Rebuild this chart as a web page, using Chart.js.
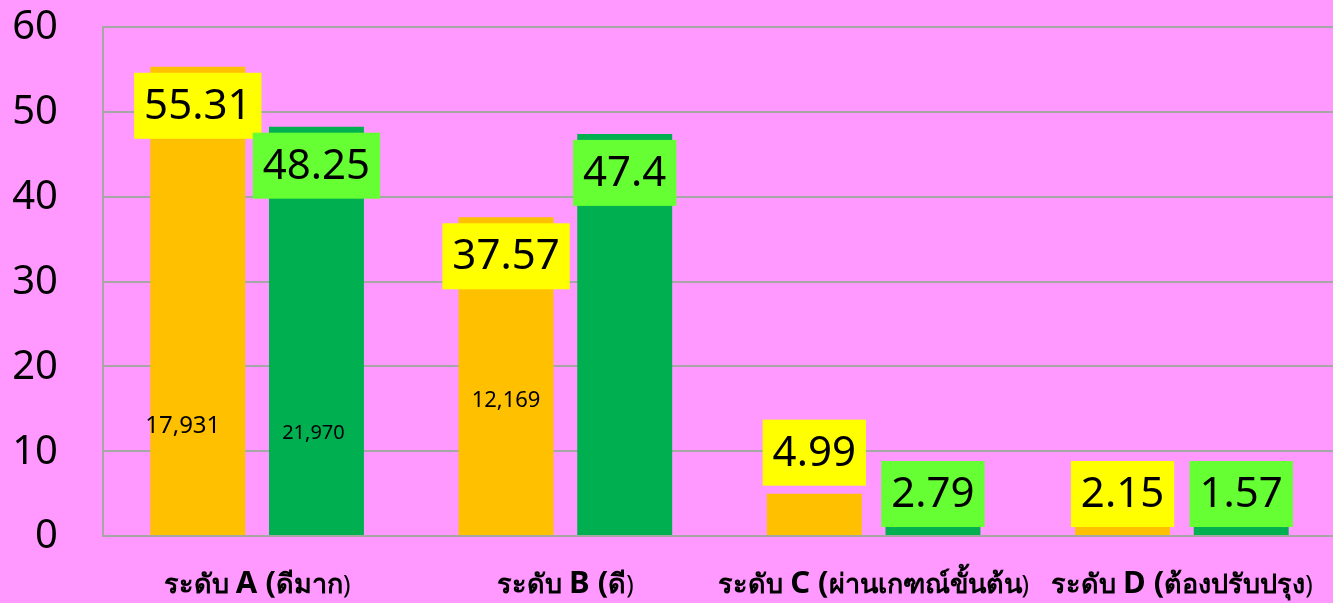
<!DOCTYPE html>
<html>
<head>
<meta charset="utf-8">
<script src="https://cdn.jsdelivr.net/npm/chart.js@4/dist/chart.umd.min.js"></script>
<style>
  html, body { margin: 0; padding: 0; background: #FF99FF; }
  #wrap { width: 1336px; height: 603px; }
</style>
</head>
<body>
<div id="wrap"><canvas id="chart"></canvas></div>
<script>
// data
const levelCodes = ["A", "B", "C", "D"];
const levelNames = ["ดีมาก", "ดี", "ผ่านเกฑณ์ขั้นต้น", "ต้องปรับปรุง"];
const percentOrange = [55.31, 37.57, 4.99, 2.15];
const percentGreen = [48.25, 47.4, 2.79, 1.57];
const countsOrange = ["17,931", "12,169", null, null];
const countsGreen = ["21,970", null, null, null];
const yTicks = [0, 10, 20, 30, 40, 50, 60];

const BG = "#FF99FF";
const FONT = "'Noto Sans', 'Open Sans', sans-serif";

// big value boxes (yellow / bright green) near the bar tops
const valueBoxes = {
  id: "valueBoxes",
  afterDatasetsDraw(chart) {
    const ctx = chart.ctx;
    const bottom = chart.chartArea.bottom;
    chart.data.datasets.forEach((ds, di) => {
      const meta = chart.getDatasetMeta(di);
      meta.data.forEach((bar, i) => {
        const txt = String(ds.data[i]);
        ctx.save();
        ctx.font = "42px " + FONT;
        const w = ctx.measureText(txt).width + 20;
        const h = 66;
        let cy;
        if (ds.labelAbove && ds.labelAbove[i]) cy = bar.y - 41;
        else cy = Math.min(bar.y + 39, bottom - 9 - h / 2);
        ctx.fillStyle = ds.boxColor;
        ctx.fillRect(bar.x - w / 2, cy - h / 2, w, h);
        ctx.fillStyle = "#000";
        ctx.textAlign = "center";
        ctx.textBaseline = "middle";
        ctx.fillText(txt, bar.x, cy + 1);
        ctx.restore();
      });
    });
  }
};

// small head-count text boxes inside the bars
const countLabels = {
  id: "countLabels",
  afterDatasetsDraw(chart, args, opts) {
    const ctx = chart.ctx;
    const y = chart.scales.y;
    chart.data.datasets.forEach((ds, di) => {
      const meta = chart.getDatasetMeta(di);
      ds.counts.forEach((c, i) => {
        if (!c) return;
        const st = opts.style[di][i];
        ctx.save();
        ctx.font = st.size + "px " + FONT;
        ctx.fillStyle = "#000";
        ctx.textAlign = "center";
        ctx.textBaseline = "middle";
        ctx.fillText(c, meta.data[i].x + st.dx, y.getPixelForValue(st.at));
        ctx.restore();
      });
    });
  }
};

// y tick labels, right-aligned well left of the axis
const yLabels = {
  id: "yLabels",
  afterDraw(chart) {
    const ctx = chart.ctx;
    const y = chart.scales.y;
    ctx.save();
    ctx.font = "40px " + FONT;
    ctx.fillStyle = "#000";
    ctx.textAlign = "right";
    ctx.textBaseline = "middle";
    yTicks.forEach(v => ctx.fillText(String(v), 58, y.getPixelForValue(v) + 1));
    ctx.restore();
  }
};

// category labels: "ระดับ" + bold "X (" + name + ")"
const categoryLabels = {
  id: "categoryLabels",
  afterDraw(chart) {
    const ctx = chart.ctx;
    const x = chart.scales.x;
    const baseY = 593;
    levelCodes.forEach((code, i) => {
      const parts = [
        { t: "ระดับ ", f: "bold 27px " + FONT },
        { t: code + " (", f: "bold 31px " + FONT },
        { t: levelNames[i], f: "bold 27px " + FONT },
        { t: ")", f: "25px " + FONT }
      ];
      ctx.save();
      let total = 0;
      parts.forEach(p => { ctx.font = p.f; p.w = ctx.measureText(p.t).width; total += p.w; });
      let cx = x.getPixelForValue(i) - total / 2;
      if (cx + total > 1330) cx = 1330 - total;
      ctx.fillStyle = "#000";
      ctx.textBaseline = "alphabetic";
      parts.forEach(p => { ctx.font = p.f; ctx.fillText(p.t, cx, baseY); cx += p.w; });
      ctx.restore();
    });
  }
};

new Chart(document.getElementById("chart"), {
  type: "bar",
  data: {
    labels: levelCodes,
    datasets: [
      {
        data: percentOrange,
        counts: countsOrange,
        backgroundColor: "#FFC000",
        boxColor: "#FFFF00",
        labelAbove: [false, false, true, false],
        categoryPercentage: 0.77,
        barPercentage: 0.8
      },
      {
        data: percentGreen,
        counts: countsGreen,
        backgroundColor: "#00B050",
        boxColor: "#66FF33",
        labelAbove: [false, false, false, false],
        categoryPercentage: 0.77,
        barPercentage: 0.8
      }
    ]
  },
  options: {
    responsive: true,
    maintainAspectRatio: false,
    animation: false,
    layout: { padding: { top: 27, right: 0, bottom: 67, left: 0 } },
    plugins: {
      legend: { display: false },
      tooltip: { enabled: false },
      countLabels: {
        style: [
          [{ at: 13.0, dx: -15, size: 24 }, { at: 16.0, dx: 0, size: 22 }],
          [{ at: 12.1, dx: -3, size: 20 }]
        ]
      }
    },
    scales: {
      x: {
        grid: { display: false, drawTicks: false },
        border: { color: "#A6A6A6", width: 2 },
        ticks: { display: false }
      },
      y: {
        min: 0,
        max: 60,
        afterBuildTicks: axis => { axis.ticks = yTicks.map(v => ({ value: v })); },
        afterFit: axis => { axis.width = 103; },
        grid: { color: "#A6A6A6", lineWidth: 2, drawTicks: false },
        border: { color: "#A6A6A6", width: 2 },
        ticks: { display: false }
      }
    }
  },
  plugins: [
    { id: "bg", beforeDraw(c) { c.ctx.save(); c.ctx.fillStyle = BG; c.ctx.fillRect(0, 0, c.width, c.height); c.ctx.restore(); } },
    valueBoxes, countLabels, yLabels, categoryLabels
  ]
});
</script>
</body>
</html>
